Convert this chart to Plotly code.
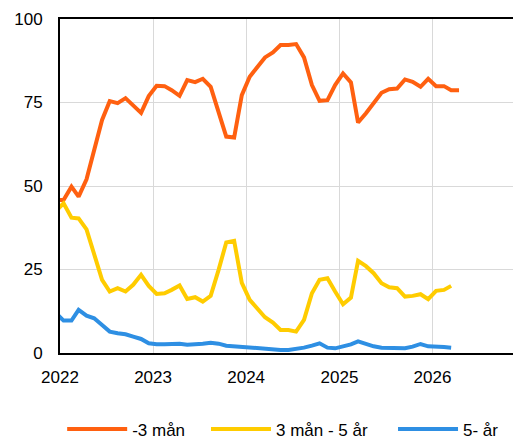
import pandas as pd
import plotly.graph_objects as go

# Monthly observations, mid-month, Dec 2021 .. Apr 2026
months = (pd.date_range("2021-12-01", periods=53, freq="MS") + pd.Timedelta(days=14)).strftime("%Y-%m-%d").tolist()

short_3m = [45.8, 45.8, 49.8, 46.8, 52.0, 60.8, 69.8, 75.4, 74.8, 76.3, 74.3, 71.9, 76.9,
            80.0, 79.9, 78.7, 77.0, 81.7, 81.1, 82.1, 79.7, 72.3, 64.8, 64.5, 77.2,
            82.7, 85.7, 88.5, 90.0, 92.2, 92.2, 92.5, 88.5, 80.2, 75.5, 75.7, 80.2,
            83.7, 81.0, 69.0, 71.8, 74.6, 77.9, 79.0, 79.2, 81.9, 81.2, 79.7, 82.1,
            79.9, 79.9, 78.7, 78.7]
mid_3m_5y = [42.5, 44.8, 40.5, 40.3, 37.0, 29.3, 21.9, 18.4, 19.4, 18.4, 20.4, 23.4, 20.1,
             17.7, 17.9, 18.9, 20.2, 16.2, 16.7, 15.4, 17.1, 24.9, 33.1, 33.6, 21.0,
             15.9, 13.1, 10.7, 9.1, 6.9, 6.9, 6.4, 9.9, 17.9, 21.9, 22.4, 18.4,
             14.6, 16.6, 27.6, 26.0, 23.9, 20.9, 19.7, 19.4, 16.9, 17.1, 17.6, 16.1,
             18.6, 18.9, 20.1, None]
long_5y = [12.0, 9.7, 9.7, 12.9, 11.2, 10.4, 8.4, 6.4, 5.9, 5.6, 4.9, 4.2, 2.9,
           2.6, 2.6, 2.8, 2.8, 2.5, 2.5, 2.8, 3.1, 2.8, 2.2, 2.0, 1.8,
           1.6, 1.3, 1.2, 1.1, 0.9, 0.9, 1.2, 1.6, 2.2, 2.9, 1.6, 1.4,
           2.0, 2.6, 3.5, 2.6, 2.0, 1.6, 1.6, 1.6, 1.4, 1.9, 2.7, 2.0,
           2.0, 1.8, 1.6, None]

series_names = ["-3 mån", "3 mån - 5 år", "5- år"]
colors = ["#FF6010", "#FFCC00", "#2E8FE3"]
legend_ids = ["legend", "legend2", "legend3"]
legend_x = [0.0047, 0.3167, 0.7224]
x_ticks = ["2022-01-01", "2023-01-01", "2024-01-01", "2025-01-01", "2026-01-01"]
x_tick_labels = ["2022", "2023", "2024", "2025", "2026"]
y_ticks = [0, 25, 50, 75, 100]

font = dict(family="Arial, Liberation Sans, sans-serif", size=17, color="#000000")

fig = go.Figure()
for name, vals, col, lg in zip(series_names, [short_3m, mid_3m_5y, long_5y], colors, legend_ids):
    fig.add_trace(go.Scatter(x=months, y=vals, mode="lines", name=name, legend=lg,
                             line=dict(color=col, width=4), connectgaps=False))

legend_layout = {}
for lg, lx in zip(legend_ids, legend_x):
    legend_layout[lg] = dict(orientation="h", x=lx, xanchor="left", y=-0.229, yanchor="middle",
                             font=font, itemwidth=60, bgcolor="rgba(0,0,0,0)", borderwidth=0)

# The page places the figure 8 px in from the top-left corner.
fig.update_layout(
    width=513, height=431,
    margin=dict(l=52, r=0, t=11, b=86, autoexpand=False),
    paper_bgcolor="white", plot_bgcolor="white",
    font=font,
    showlegend=True,
    xaxis=dict(type="date", range=["2022-01-01", "2026-12-14"],
               tickvals=x_ticks, ticktext=x_tick_labels,
               showgrid=True, gridcolor="#D9D9D9", gridwidth=1,
               showline=True, linecolor="#000000", linewidth=2, mirror=True,
               ticks="outside", ticklen=8, tickcolor="rgba(0,0,0,0)",
               zeroline=False, tickfont=font, automargin=False),
    yaxis=dict(range=[0, 100], tickvals=y_ticks,
               showgrid=True, gridcolor="#D9D9D9", gridwidth=1,
               showline=True, linecolor="#000000", linewidth=2, mirror=False,
               ticks="outside", ticklen=12, tickcolor="rgba(0,0,0,0)",
               zeroline=False, tickfont=font, automargin=False),
    **legend_layout,
)

fig.write_html("out.html")
